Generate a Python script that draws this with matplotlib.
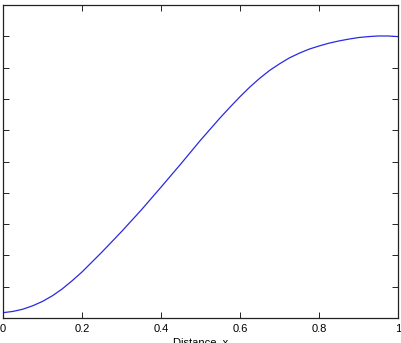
import matplotlib
matplotlib.use("Agg")
import matplotlib.pyplot as plt

# values (y in axis units, 0..10; y labels are cropped away)
distance = [0.00, 0.025, 0.05, 0.075, 0.10, 0.125, 0.15, 0.175, 0.20, 0.25, 0.30,
            0.35, 0.40, 0.45, 0.50, 0.525, 0.55, 0.575, 0.60, 0.625, 0.65, 0.675,
            0.70, 0.725, 0.75, 0.775, 0.80, 0.825, 0.85, 0.875, 0.90, 0.925,
            0.95, 0.975, 1.00]
value = [0.17, 0.21, 0.28, 0.39, 0.53, 0.71, 0.93, 1.19, 1.47, 2.10, 2.76,
         3.45, 4.18, 4.92, 5.68, 6.04, 6.40, 6.74, 7.07, 7.38, 7.66, 7.91,
         8.12, 8.31, 8.46, 8.59, 8.69, 8.78, 8.85, 8.91, 8.96, 8.99,
         9.01, 9.01, 8.99]
xticks = [0, 0.2, 0.4, 0.6, 0.8, 1]
xtick_labels = ["0", "0.2", "0.4", "0.6", "0.8", "1"]

W, H = 401, 343
fig = plt.figure(figsize=(W / 100, H / 100), dpi=100)
ax = fig.add_axes([3 / W, (H - 318) / H, 395 / W, 313 / H])

ax.plot(distance, value, color="#2a2ae0", linewidth=0.9)

ax.set_xlim(0, 1)
ax.set_ylim(0, 10)
ax.set_xticks(xticks)
ax.set_xticklabels(xtick_labels, family="Liberation Sans", fontsize=8)
ax.set_yticks(range(0, 11))
ax.set_yticklabels([])
ax.tick_params(direction="in", length=4, width=0.6, top=True, right=True, pad=4)
ax.set_xlabel("Distance, x", family="Liberation Sans", fontsize=8, labelpad=3)
for s in ax.spines.values():
    s.set_linewidth(0.9)
    s.set_color("#222222")

fig.savefig("out.png", dpi=100)
